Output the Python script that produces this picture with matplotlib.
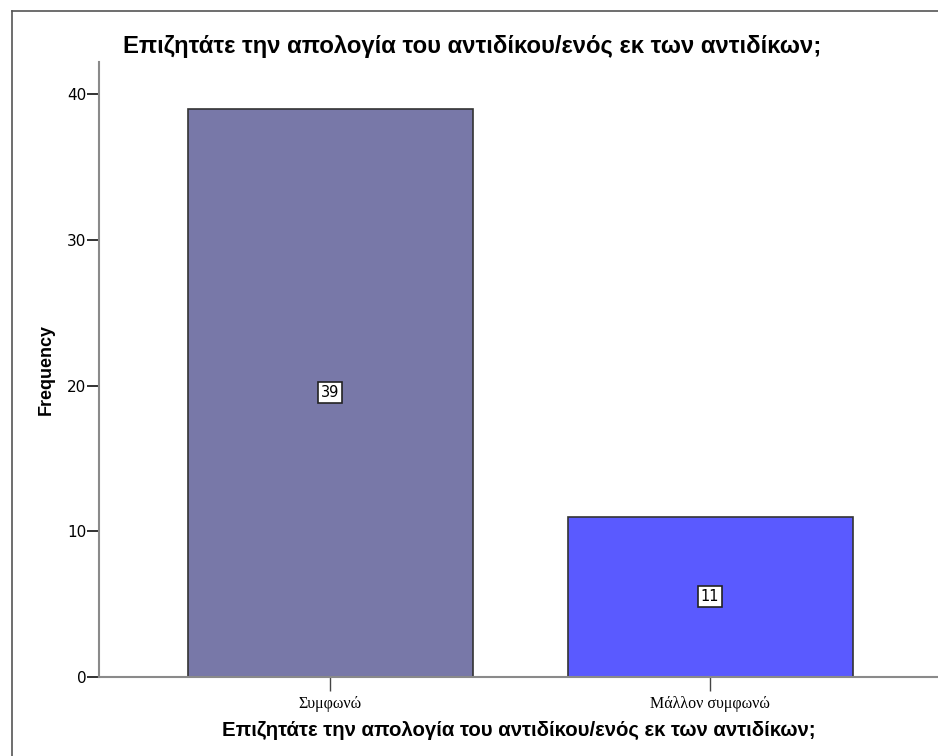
import matplotlib
matplotlib.use('Agg')
import matplotlib.pyplot as plt
from matplotlib.lines import Line2D

categories = ['Συμφωνώ', 'Μάλλον συμφωνώ']
counts = [39, 11]
bar_colors = ['#7878a8', '#5a5aff']
title = 'Επιζητάτε την απολογία του αντιδίκου/ενός εκ των αντιδίκων;'

W, H = 938, 756
fig = plt.figure(figsize=(W / 100, H / 100), dpi=100)
ax = fig.add_axes([99 / W, 1 - 677 / H, (938 - 99) / W, (677 - 62) / H])

x = list(range(len(categories)))
bars = ax.bar(x, counts, width=0.75, color=bar_colors, edgecolor='#333333', linewidth=1.2)

# value labels in white boxes at mid-height
for xi, v in zip(x, counts):
    ax.text(xi, v / 2, str(v), ha='center', va='center', fontsize=10.5,
            family='DejaVu Sans',
            bbox=dict(boxstyle='square,pad=0.2', facecolor='white',
                      edgecolor='#222222', linewidth=1.2))

ax.set_xlim(-0.608, 1.6)
ax.set_ylim(0, 42.2)
ax.set_yticks([0, 10, 20, 30, 40])
ax.set_xticks(x)
ax.set_xticklabels(categories, family='Liberation Serif', fontsize=11.5)
ax.tick_params(axis='y', labelsize=11, length=9, width=1.3, color='#222222', pad=0)
ax.tick_params(axis='x', length=10, width=1, color='#444444', pad=4)

for s in ['top', 'right']:
    ax.spines[s].set_visible(False)
for s in ['left', 'bottom']:
    ax.spines[s].set_color('#8a8a8a')
    ax.spines[s].set_linewidth(1.5)

ax.set_ylabel('Frequency', fontsize=13, fontweight='bold', family='Liberation Sans', labelpad=9)
ax.set_xlabel(title, fontsize=14.7, fontweight='bold', family='Liberation Sans', labelpad=6)
fig.text(472 / W, 1 - 47 / H, title, ha='center', va='center', fontsize=17.2,
         fontweight='bold', family='Liberation Sans')

# outer frame (left and top edges visible)
fig.add_artist(Line2D([12 / W, 12 / W], [0, 1 - 11 / H], color='#555555', linewidth=1.2))
fig.add_artist(Line2D([12 / W, 1], [1 - 11 / H, 1 - 11 / H], color='#555555', linewidth=1.2))

fig.savefig('out.png', dpi=100)
